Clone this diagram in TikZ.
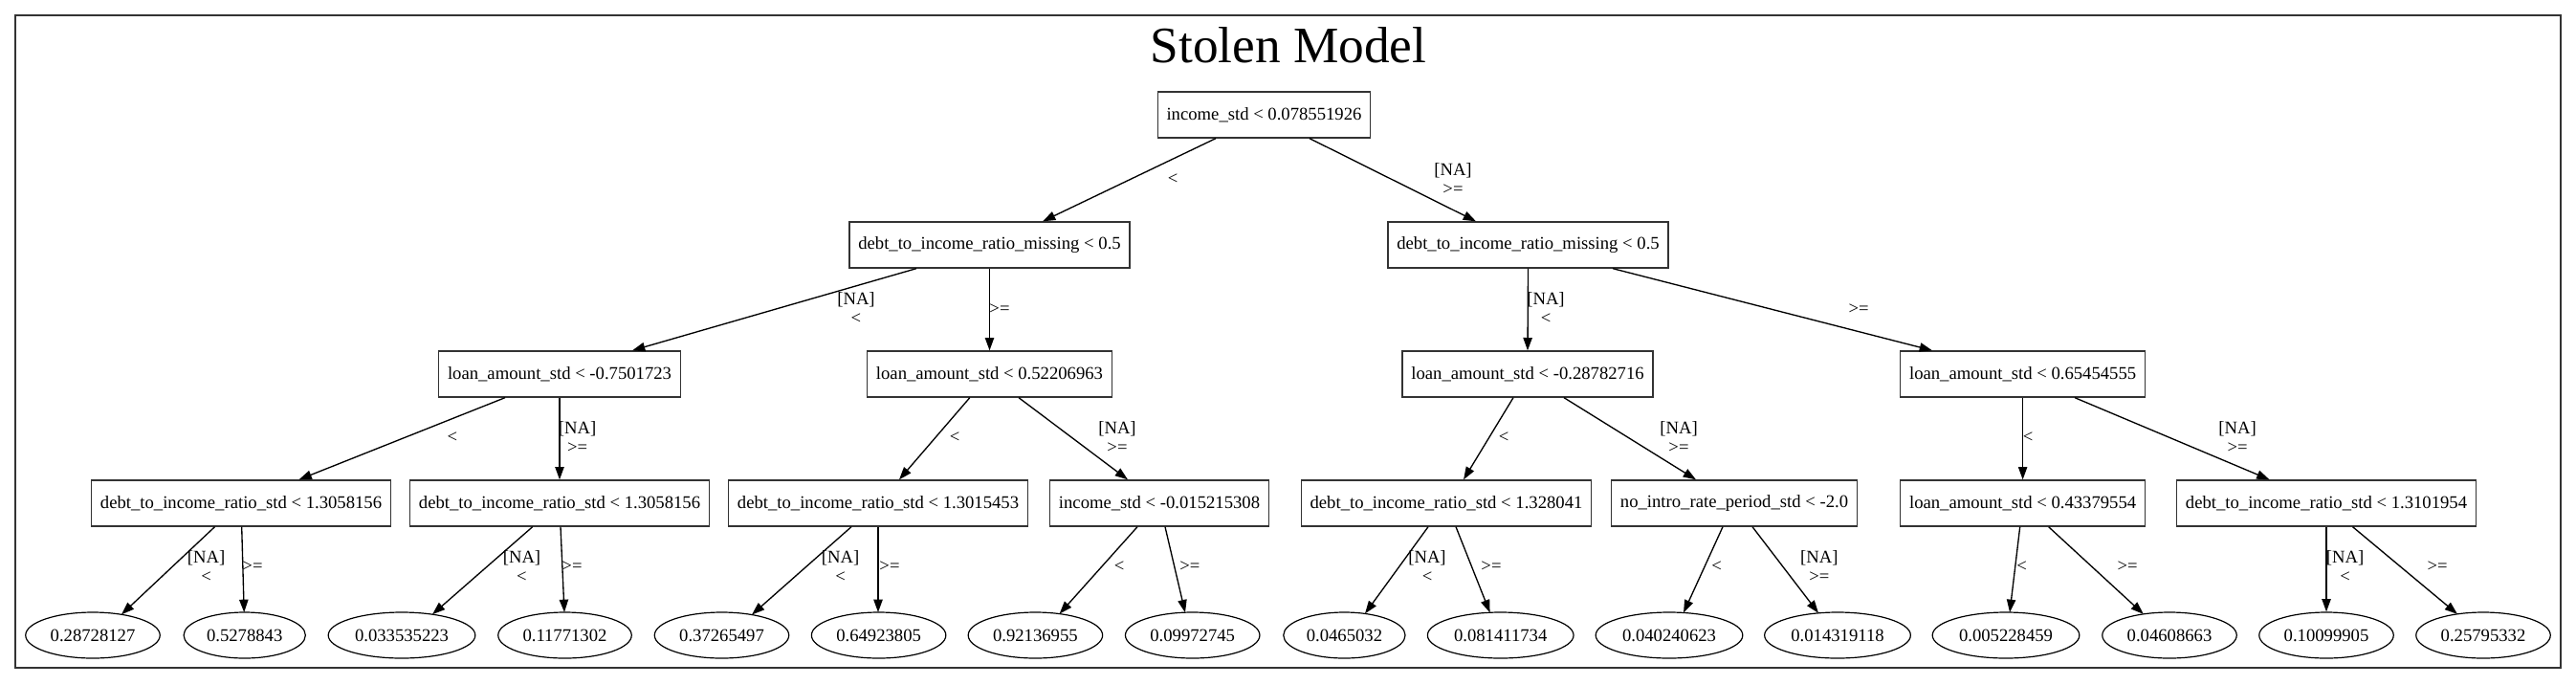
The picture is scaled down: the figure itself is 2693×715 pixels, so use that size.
\documentclass[tikz,border=0pt]{standalone}
\usepackage{fontspec}
\setmainfont{Liberation Serif}
\usetikzlibrary{arrows.meta,calc,shapes.geometric}
\tikzset{
  split/.style={draw=black!80, line width=1pt, rectangle, minimum height=36pt,
    inner xsep=7pt, inner ysep=0pt, font=\fontsize{14pt}{16pt}\selectfont},
  leaf/.style={draw=black, line width=0.9pt, ellipse, minimum height=36pt,
    inner xsep=4pt, inner ysep=0pt, font=\fontsize{14pt}{16pt}\selectfont},
  elab/.style={font=\fontsize{14pt}{15pt}\selectfont, align=center, inner sep=0pt},
  edge/.style={draw=black, line width=1pt, -{Triangle[length=10pt,width=7pt]}},
}
\begin{document}
\begin{tikzpicture}[x=0.75pt,y=-0.75pt]
\useasboundingbox (0,0) rectangle (2693,715);
\draw[black!80, line width=1pt] (16,16) rectangle (2677,698);
\node[anchor=base, font=\fontsize{40pt}{44pt}\selectfont, inner sep=0pt] (title) at (1347,65) {Stolen Model};

% splits
\node[split] (root) at (1321.5,120) {income\_std < 0.078551926};
\node[split] (n1) at (1034.5,256) {debt\_to\_income\_ratio\_missing < 0.5};
\node[split] (n2) at (1597.5,256) {debt\_to\_income\_ratio\_missing < 0.5};
\node[split] (n3) at (585,391) {loan\_amount\_std < -0.7501723};
\node[split] (n4) at (1034.5,391) {loan\_amount\_std < 0.52206963};
\node[split] (n5) at (1597,391) {loan\_amount\_std < -0.28782716};
\node[split] (n6) at (2114.6,391) {loan\_amount\_std < 0.65454555};
\node[split] (a) at (252,526) {debt\_to\_income\_ratio\_std < 1.3058156};
\node[split] (b) at (585,526) {debt\_to\_income\_ratio\_std < 1.3058156};
\node[split] (c) at (918,526) {debt\_to\_income\_ratio\_std < 1.3015453};
\node[split] (d) at (1212,526) {income\_std < -0.015215308};
\node[split] (e) at (1512,526) {debt\_to\_income\_ratio\_std < 1.328041};
\node[split] (f) at (1813,526) {no\_intro\_rate\_period\_std < -2.0};
\node[split] (g) at (2114.6,526) {loan\_amount\_std < 0.43379554};
\node[split] (h) at (2432,526) {debt\_to\_income\_ratio\_std < 1.3101954};

% leaves
\node[leaf] (L1) at (97,664) {0.28728127};
\node[leaf] (L2) at (255.7,664) {0.5278843};
\node[leaf] (L3) at (420,664) {0.033535223};
\node[leaf] (L4) at (590.5,664) {0.11771302};
\node[leaf] (L5) at (754.5,664) {0.37265497};
\node[leaf] (L6) at (918.6,664) {0.64923805};
\node[leaf] (L7) at (1082.4,664) {0.92136955};
\node[leaf] (L8) at (1246.7,664) {0.09972745};
\node[leaf] (L9) at (1405.4,664) {0.0465032};
\node[leaf] (L10) at (1568.7,664) {0.081411734};
\node[leaf] (L11) at (1745,664) {0.040240623};
\node[leaf] (L12) at (1921,664) {0.014319118};
\node[leaf] (L13) at (2097,664) {0.005228459};
\node[leaf] (L14) at (2268,664) {0.04608663};
\node[leaf] (L15) at (2432,664) {0.10099905};
\node[leaf] (L16) at (2596,664) {0.25795332};

% edges level 0 -> 1
\draw[edge] ($(root.south)+(-50.5,0)$) -- ($(n1.north)+(55.5,0)$);
\draw[edge] ($(root.south)+(47.5,0)$) -- ($(n2.north)+(-54.5,0)$);
% level 1 -> 2
\draw[edge] ($(n1.south)+(-76.5,0)$) -- ($(n3.north)+(76,0)$);
\draw[edge] (n1.south) -- (n4.north);
\draw[edge] (n2.south) -- ($(n5.north)+(0,0)$);
\draw[edge] ($(n2.south)+(88.5,0)$) -- ($(n6.north)+(-94.6,0)$);
% level 2 -> 3
\draw[edge] ($(n3.south)+(-57,0)$) -- ($(a.north)+(60.5,0)$);
\draw[edge] (n3.south) -- (b.north);
\draw[edge] ($(n4.south)+(-20.7,0)$) -- ($(c.north)+(22,0)$);
\draw[edge] ($(n4.south)+(30.5,0)$) -- ($(d.north)+(-33,0)$);
\draw[edge] ($(n5.south)+(-15,0)$) -- ($(e.north)+(18,0)$);
\draw[edge] ($(n5.south)+(38,0)$) -- ($(f.north)+(-40,0)$);
\draw[edge] (n6.south) -- (g.north);
\draw[edge] ($(n6.south)+(54.4,0)$) -- ($(h.north)+(-59.5,0)$);
% level 3 -> leaves
\draw[edge] ($(a.south)+(-27.5,0)$) -- ($(L1.center)+(30,-21.7)$);
\draw[edge] ($(a.south)+(0.7,0)$) -- ($(L2.center)+(-0.5,-24)$);
\draw[edge] ($(b.south)+(-28.3,0)$) -- ($(L3.center)+(32,-21.8)$);
\draw[edge] ($(b.south)+(1,0)$) -- ($(L4.center)+(-0.5,-24)$);
\draw[edge] ($(c.south)+(-28,0)$) -- ($(L5.center)+(31.5,-21.5)$);
\draw[edge] (c.south) -- ($(L6.center)+(-0.6,-24)$);
\draw[edge] ($(d.south)+(-23,0)$) -- ($(L7.center)+(25.2,-22.4)$);
\draw[edge] ($(d.south)+(6,0)$) -- ($(L8.center)+(-7.7,-23.7)$);
\draw[edge] ($(e.south)+(-19,0)$) -- ($(L9.center)+(21.6,-22.6)$);
\draw[edge] ($(e.south)+(10,0)$) -- ($(L10.center)+(-11.1,-23.7)$);
\draw[edge] ($(f.south)+(-12,0)$) -- ($(L11.center)+(15,-23.5)$);
\draw[edge] ($(f.south)+(19,0)$) -- ($(L12.center)+(-20,-23.2)$);
\draw[edge] ($(g.south)+(-2.9,0)$) -- ($(L13.center)+(4,-24)$);
\draw[edge] ($(g.south)+(27,0)$) -- ($(L14.center)+(-27.2,-22.1)$);
\draw[edge] (h.south) -- (L15.north);
\draw[edge] ($(h.south)+(27.5,0)$) -- ($(L16.center)+(-27,-22.1)$);

% edge labels
\node[elab] (t1) at (1226,187) {<};
\node[elab] (t2) at (1519,187.5) {[NA]\\>=};
\node[elab] (t3) at (895,322.5) {[NA]\\<};
\node[elab] (t4) at (1045,323) {>=};
\node[elab] (t5) at (1616,322.5) {[NA]\\<};
\node[elab] (t6) at (1943,323) {>=};
\node[elab] (t7) at (473,457) {<};
\node[elab] (t8) at (603.6,457.5) {[NA]\\>=};
\node[elab] (t9) at (998,457) {<};
\node[elab] (t10) at (1168,457.5) {[NA]\\>=};
\node[elab] (t11) at (1572,457) {<};
\node[elab] (t12) at (1755,457.5) {[NA]\\>=};
\node[elab] (t13) at (2120,457) {<};
\node[elab] (t14) at (2339,457.5) {[NA]\\>=};
\node[elab] (t15) at (215.6,592) {[NA]\\<};
\node[elab] (t16) at (264,592) {>=};
\node[elab] (t17) at (545.5,592) {[NA]\\<};
\node[elab] (t18) at (598,592) {>=};
\node[elab] (t19) at (878.6,592) {[NA]\\<};
\node[elab] (t20) at (930,592) {>=};
\node[elab] (t21) at (1170,592) {<};
\node[elab] (t22) at (1243.8,592) {>=};
\node[elab] (t23) at (1492,592) {[NA]\\<};
\node[elab] (t24) at (1559,592) {>=};
\node[elab] (t25) at (1794.6,592) {<};
\node[elab] (t26) at (1901.8,592) {[NA]\\>=};
\node[elab] (t27) at (2113.5,592) {<};
\node[elab] (t28) at (2224,592) {>=};
\node[elab] (t29) at (2451.5,592) {[NA]\\<};
\node[elab] (t30) at (2548,592) {>=};
\end{tikzpicture}
\end{document}
